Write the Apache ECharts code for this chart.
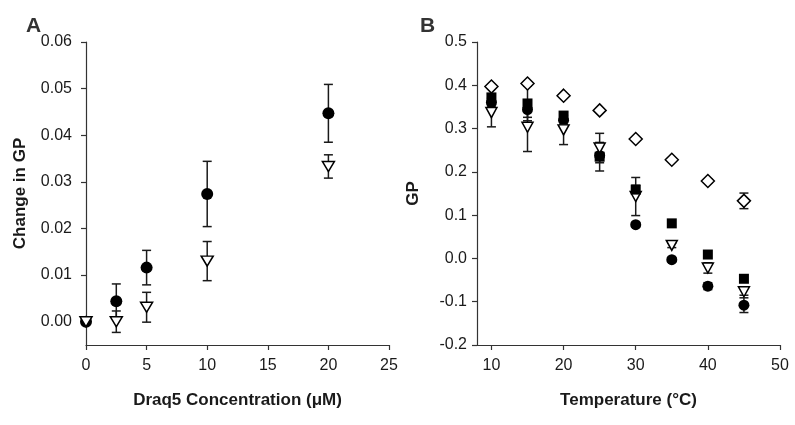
<!DOCTYPE html>
<html>
<head>
<meta charset="utf-8">
<script src="https://cdn.jsdelivr.net/npm/echarts@6/dist/echarts.min.js"></script>
<style>
html,body{margin:0;padding:0;background:#fff;}
#c{width:795px;height:425px;}
</style>
</head>
<body>
<div id="c"></div>
<script>
// ---- Panel A data ----
const concA = [0, 2.5, 5, 10, 20];
const circA = [0, 0.0044, 0.0116, 0.0274, 0.0447];
const circAErr = [0, 0.0037, 0.0037, 0.0070, 0.0062];
const triA = [0, 0.0000, 0.0031, 0.0130, 0.0333];
const triAErr = [0, 0.0023, 0.0032, 0.0042, 0.0025];
const yTicksA = [0, 0.01, 0.02, 0.03, 0.04, 0.05, 0.06];

// ---- Panel B data ----
const tempB = [10, 15, 20, 25, 30, 35, 40, 45];
const diamB = [0.397, 0.404, 0.376, 0.342, 0.276, 0.228, 0.179, 0.133];
const diamBErr = [0, 0, 0, 0, 0, 0, 0.005, 0.018];
const sqB = [0.372, 0.358, 0.330, 0.235, 0.159, 0.081, 0.009, -0.047];
const sqBErr = [0.008, 0.040, 0.008, 0.033, 0.010, 0, 0, 0];
const circB = [0.360, 0.344, 0.319, 0.238, 0.078, -0.003, -0.064, -0.108];
const circBErr = [0.010, 0.018, 0.010, 0, 0.005, 0.005, 0.008, 0.017];
const triB = [0.337, 0.303, 0.297, 0.255, 0.143, 0.030, -0.022, -0.077];
const triBErr = [0.033, 0.056, 0.034, 0.034, 0.044, 0.005, 0.012, 0.008];
const xTicksB = [10, 20, 30, 40, 50];

const FONT = 'Liberation Sans, Arial, sans-serif';
const INK = '#1a1a1a';

function pts(xs, ys) { return xs.map((x, i) => [x, ys[i]]); }
function errPts(xs, ys, es) { return xs.map((x, i) => [x, ys[i], es[i]]); }

function errRender(params, api) {
  const x = api.value(0), y = api.value(1), e = api.value(2);
  if (!e) return { type: 'group', children: [] };
  const t = api.coord([x, y + e]);
  const b = api.coord([x, y - e]);
  const w = 4.5;
  const st = { stroke: INK, lineWidth: 1.5 };
  return {
    type: 'group',
    children: [
      { type: 'line', shape: { x1: t[0], y1: t[1], x2: b[0], y2: b[1] }, style: st },
      { type: 'line', shape: { x1: t[0] - w, y1: t[1], x2: t[0] + w, y2: t[1] }, style: st },
      { type: 'line', shape: { x1: b[0] - w, y1: b[1], x2: b[0] + w, y2: b[1] }, style: st }
    ]
  };
}

function errSeries(xi, data) {
  return {
    type: 'custom', xAxisIndex: xi, yAxisIndex: xi,
    renderItem: errRender, data: data, encode: { x: 0, y: 1 }, z: 2,
    silent: true
  };
}

const filled = { color: '#000', opacity: 1 };
const open = { color: '#fff', borderColor: '#000', borderWidth: 1.5, opacity: 1 };

function scat(xi, data, symbol, size, style, rot) {
  return {
    type: 'scatter', xAxisIndex: xi, yAxisIndex: xi, data: data,
    symbol: symbol, symbolSize: size, symbolRotate: rot || 0,
    itemStyle: style, z: 3, silent: true
  };
}

const axisLine = { show: true, onZero: false, lineStyle: { color: '#333', width: 1.2 } };
const axisTick = { show: true, inside: false, length: 5, lineStyle: { color: '#333', width: 1.2 } };
const labelStyle = { color: INK, fontFamily: FONT, fontSize: 16 };
const nameStyle = { color: INK, fontFamily: FONT, fontSize: 17, fontWeight: 'bold' };

const option = {
  animation: false,
  backgroundColor: '#fff',
  title: [
    { text: 'A', left: 21, top: 11, textStyle: { fontFamily: FONT, fontSize: 21, fontWeight: 'bold', color: '#333' } },
    { text: 'B', left: 415, top: 11, textStyle: { fontFamily: FONT, fontSize: 21, fontWeight: 'bold', color: '#333' } }
  ],
  grid: [
    { left: 86, right: 406, top: 42, bottom: 80 },
    { left: 477, right: 15, top: 42, bottom: 80 }
  ],
  xAxis: [
    {
      gridIndex: 0, type: 'value', min: 0, max: 25, interval: 5,
      axisLine: axisLine, axisTick: axisTick, splitLine: { show: false },
      axisLabel: Object.assign({ margin: 13 }, labelStyle),
      name: 'Draq5 Concentration (μM)', nameLocation: 'middle', nameGap: 47,
      nameTextStyle: nameStyle
    },
    {
      gridIndex: 1, type: 'value', min: 8, max: 50,
      axisLine: axisLine,
      axisTick: Object.assign({ customValues: xTicksB }, axisTick),
      splitLine: { show: false },
      axisLabel: Object.assign({ margin: 13, customValues: xTicksB }, labelStyle),
      name: 'Temperature (°C)', nameLocation: 'middle', nameGap: 47,
      nameTextStyle: nameStyle
    }
  ],
  yAxis: [
    {
      gridIndex: 0, type: 'value', min: -0.005, max: 0.06,
      axisLine: axisLine,
      axisTick: Object.assign({ customValues: yTicksA }, axisTick),
      splitLine: { show: false },
      axisLabel: Object.assign({ margin: 14, customValues: yTicksA, formatter: v => v.toFixed(2) }, labelStyle),
      name: 'Change in GP', nameLocation: 'middle', nameGap: 57,
      nameTextStyle: nameStyle
    },
    {
      gridIndex: 1, type: 'value', min: -0.2, max: 0.5, interval: 0.1,
      axisLine: axisLine, axisTick: axisTick, splitLine: { show: false },
      axisLabel: Object.assign({ margin: 10, formatter: v => v.toFixed(1) }, labelStyle),
      name: 'GP', nameLocation: 'middle', nameGap: 55,
      nameTextStyle: nameStyle
    }
  ],
  series: [
    errSeries(0, errPts(concA, circA, circAErr)),
    errSeries(0, errPts(concA, triA, triAErr)),
    scat(0, pts(concA, circA), 'circle', 12, filled),
    scat(0, pts(concA, triA), 'triangle', [12, 10], open, 180),

    errSeries(1, errPts(tempB, circB, circBErr)),
    errSeries(1, errPts(tempB, triB, triBErr)),
    errSeries(1, errPts(tempB, sqB, sqBErr)),
    errSeries(1, errPts(tempB, diamB, diamBErr)),
    scat(1, pts(tempB, circB), 'circle', 11, filled),
    scat(1, pts(tempB, triB), 'triangle', [11, 10], open, 180),
    scat(1, pts(tempB, sqB), 'rect', 10, filled),
    scat(1, pts(tempB, diamB), 'diamond', 13, open)
  ]
};

const chart = echarts.init(document.getElementById('c'), null, { renderer: 'canvas' });
chart.setOption(option);
</script>
</body>
</html>
